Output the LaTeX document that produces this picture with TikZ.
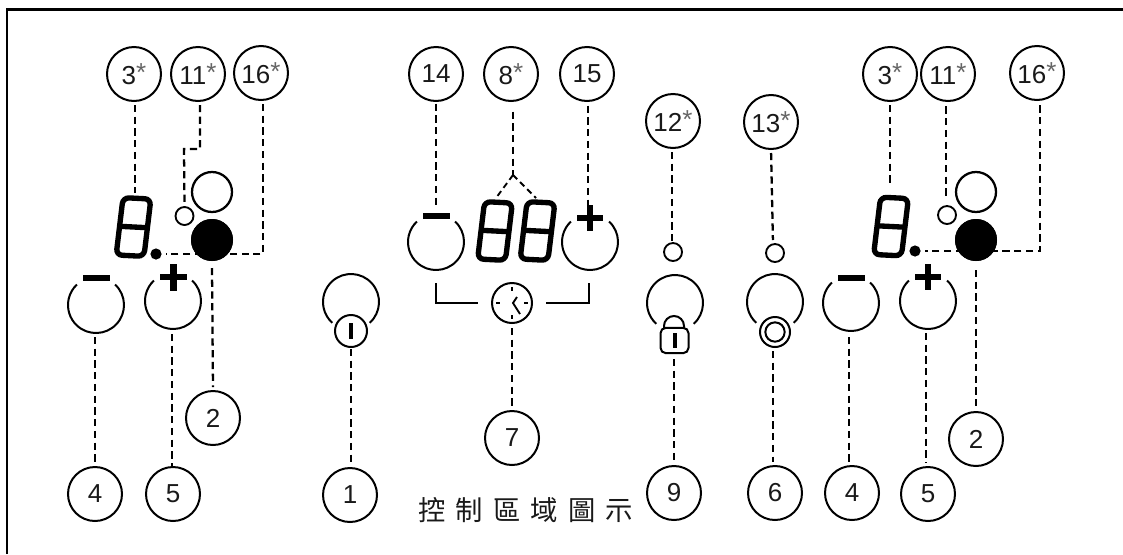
\documentclass[tikz,border=0pt]{standalone}
\usepackage{fontspec}
\setmainfont{Liberation Sans}
\newfontfamily\cjkfont{Noto Sans CJK TC}
\newcommand{\starred}[1]{#1\raisebox{2.4pt}{\textcolor{black!60}{*}}}
\newcommand{\cjkgap}{\hspace{7.6pt}}
\tikzset{
  num/.style={circle,draw=black,line width=1.5pt,minimum size=40.5pt,inner sep=0pt,outer sep=0pt,font=\fontsize{19.5}{21}\selectfont,text=black!90},
  leader/.style={line width=1.7pt,dash pattern=on 5.4pt off 3.4pt,draw=black},
  thinleader/.style={line width=1.4pt,dash pattern=on 4.5pt off 3pt,draw=black},
  btnbase/.style={circle,minimum size=42pt,inner sep=0pt,outer sep=0pt},
  btnline/.style={line width=1.5pt,draw=black},
  led/.style={circle,draw=black,line width=1.4pt,minimum size=13.5pt,inner sep=0pt,outer sep=0pt,fill=white},
  openlamp/.style={circle,draw=black,line width=1.7pt,minimum size=30pt,inner sep=0pt,outer sep=0pt},
  fulllamp/.style={circle,fill=black,minimum size=31.5pt,inner sep=0pt,outer sep=0pt},
  point/.style={circle,fill=black,minimum size=8.4pt,inner sep=0pt,outer sep=0pt},
  bar/.style={line width=4.8pt,draw=black},
  bracketline/.style={line width=1.6pt,draw=black},
  icon/.style={circle,draw=black,line width=1.5pt,inner sep=0pt,outer sep=0pt,fill=white},
  segdigit/.pic={
    \draw[line width=4pt,rounded corners=4.5pt,xslant=.12,yslant=-.05]
      (-10.5pt,-21.5pt) rectangle (10.5pt,21.5pt);
    \draw[line width=4pt,xslant=.12,yslant=-.05] (-10.5pt,0pt) -- (10.5pt,0pt);
  }
}
\begin{document}
\begin{tikzpicture}[x=.75pt,y=-.75pt]
\useasboundingbox (0,0) rectangle (1123,554);
\draw[line width=1.9pt] (7,554) -- (7,9.5) -- (1123,9.5);

% numbered circles
\node[num] (a3) at (134,74) {\starred{3}};
\node[num] (a11) at (198,74) {\starred{11}};
\node[num] (a16) at (261,73) {\starred{16}};
\node[num] (n14) at (436,74) {14};
\node[num] (n8) at (511,74) {\starred{8}};
\node[num] (n15) at (587,74) {15};
\node[num] (n12) at (673,121) {\starred{12}};
\node[num] (n13) at (771,122) {\starred{13}};
\node[num] (b3) at (890,74) {\starred{3}};
\node[num] (b11) at (948,74) {\starred{11}};
\node[num] (b16) at (1037,73) {\starred{16}};
\node[num] (a4) at (95,494) {4};
\node[num] (a5) at (173,494) {5};
\node[num] (a2) at (213,418) {2};
\node[num] (n1) at (350,495) {1};
\node[num] (n7) at (512,438) {7};
\node[num] (n9) at (674,493) {9};
\node[num] (n6) at (775,493) {6};
\node[num] (b4) at (852,493) {4};
\node[num] (b5) at (928,494) {5};
\node[num] (b2) at (976,439) {2};

% end points
\coordinate (ka3) at (135,193);
\coordinate (ka11a) at (200,149);
\coordinate (ka11b) at (184,149);
\coordinate (ka16) at (263,254);
\coordinate (ka2) at (212,268);
\coordinate (ka4) at (95,337);
\coordinate (ka5) at (172,334);
\coordinate (k14) at (436,205);
\coordinate (k15) at (588,206);
\coordinate (k8) at (513,175);
\coordinate (k8l) at (496,198);
\coordinate (k8r) at (536,198);
\coordinate (k7) at (512,328);
\coordinate (k1) at (351,349);
\coordinate (k9) at (674,359);
\coordinate (k6) at (773,351);
\coordinate (kb3) at (890,183);
\coordinate (kb11) at (946,200);
\coordinate (kb16) at (1040,251);
\coordinate (kb2) at (976,270);
\coordinate (kb4) at (849,337);
\coordinate (kb5) at (926,333);

% lamps
\node[openlamp] (ao) at (212,192) {};
\node[fulllamp] (af) at (212,240) {};
\node[led] (al) at (184.5,216) {};
\node[point] (ad) at (156,254) {};
\node[openlamp] (bo) at (976,192) {};
\node[fulllamp] (bf) at (976,240) {};
\node[led] (bl) at (947,215) {};
\node[point] (bd) at (915,251) {};
\node[led] (ll) at (673,252) {};
\node[led] (rl) at (775,253) {};

% leaders
\draw[leader,shorten <=3pt] ([xshift=.75pt]a3.south) -- (ka3);
\draw[leader,shorten <=3pt] ([xshift=1.5pt]a11.south) -- (ka11a) -- (ka11b) -- (al.north);
\draw[leader,shorten <=3pt,shorten >=3pt] ([xshift=1.5pt]a16.south) -- (ka16) -- (ad.east);
\draw[leader,shorten >=3pt] (ka2) -- (a2.north);
\draw[leader] (ka4) -- (a4.north);
\draw[leader] (ka5) -- ([xshift=-.75pt]a5.north);
\draw[leader,shorten <=2pt] (n14.south) -- (k14);
\draw[leader,shorten <=3.5pt] ([xshift=.75pt]n15.south) -- (k15);
\draw[leader,shorten <=8pt] ([xshift=1.5pt]n8.south) -- (k8);
\draw[thinleader] (k8) -- (k8l);
\draw[thinleader] (k8) -- (k8r);
\draw[leader,shorten <=3pt] ([xshift=-.75pt]n12.south) -- ([xshift=-.75pt]ll.north);
\draw[leader,shorten <=3pt,shorten >=3pt] (n13.south) -- ([xshift=-1.5pt]rl.north);
\draw[leader,shorten >=3pt] (k7) -- (n7.north);
\draw[leader,shorten >=4pt] (k1) -- ([xshift=.75pt]n1.north);
\draw[leader,shorten >=3pt] (k9) -- (n9.north);
\draw[leader,shorten >=3pt] (k6) -- ([xshift=-1.5pt]n6.north);
\draw[leader,shorten <=3pt] (b3.south) -- (kb3);
\draw[leader,shorten <=4pt] ([xshift=-1.5pt]b11.south) -- (kb11);
\draw[leader,shorten <=4pt,shorten >=3pt] ([xshift=2.25pt]b16.south) -- (kb16) -- (bd.east);
\draw[leader,shorten >=3pt] (kb2) -- (b2.north);
\draw[leader,shorten >=3pt] (kb4) -- ([xshift=-2.25pt]b4.north);
\draw[leader,shorten >=3pt] (kb5) -- ([xshift=-1.5pt]b5.north);
\node[fulllamp] at (af) {};
\node[fulllamp] at (bf) {};

% seven-segment digits
\pic at (133.5,227) {segdigit};
\pic at (891,226.5) {segdigit};
\pic at (495,231) {segdigit};
\pic at (537.5,231) {segdigit};

% buttons with an opening at the top
\node[btnbase] (mi1) at (96,305) {};
\node[btnbase] (pl1) at (173,301) {};
\node[btnbase] (mi2) at (436,242) {};
\node[btnbase] (pl2) at (590,242) {};
\node[btnbase] (mi3) at (851,303) {};
\node[btnbase] (pl3) at (928,301) {};
\foreach \b in {mi1,pl1,mi2,pl2,mi3,pl3}
  \draw[btnline] (\b.47) arc[start angle=47,end angle=-227,radius=21pt];
% buttons with an opening at the bottom
\node[btnbase] (pw) at (351,302) {};
\node[btnbase] (lk) at (675,303) {};
\node[btnbase] (rg) at (775,302) {};
\foreach \b in {pw,lk,rg}
  \draw[btnline] (\b.-48) arc[start angle=-48,end angle=228,radius=21pt];

% minus and plus signs
\draw[bar] (83,278) -- (110,278);
\draw[bar] (423,216) -- (450,216);
\draw[bar] (838,278) -- (865,278);
\draw[bar] (160,277) -- (187,277) (173.5,264) -- (173.5,291);
\draw[bar] (577,218) -- (603,218) (590,205) -- (590,231);
\draw[bar] (915,277) -- (941,277) (928,264) -- (928,290);

% power icon
\node[icon,minimum size=24pt] (pi) at (351,331) {};
\draw[line width=3.6pt] (351,323) -- (351,339);

% lock icon
\draw[line width=1.5pt] (664,330) -- (664,326) arc[start angle=180,end angle=0,radius=7.5pt] -- (684,330);
\node[draw=black,fill=white,line width=1.5pt,rounded corners=4pt,minimum width=21pt,minimum height=19pt,inner sep=0pt,outer sep=0pt] (li) at (674.5,340.5) {};
\draw[line width=3pt] (674.5,333) -- (674.5,348);

% ring icon
\node[icon,minimum size=22.5pt] (ri) at (775,332) {};
\node[icon,minimum size=14.5pt] (rj) at (775,332) {};

% clock
\node[icon,minimum size=30pt] (clk) at (512,303) {};
\draw[line width=1.2pt] (512,287) -- (512,291) (512,315) -- (512,319)
  (496,303) -- (500,303) (524,303) -- (528,303);
\draw[line width=1.4pt] (517,297) -- (513,303) -- (520,314);
\coordinate (br1) at (436,283);
\coordinate (br2) at (436,303);
\coordinate (br3) at (589,283);
\coordinate (br4) at (589,303);
\draw[bracketline,shorten >=10.5pt] (br1) -- (br2) -- (clk.west);
\draw[bracketline,shorten >=10.5pt] (br3) -- (br4) -- (clk.east);

% caption
\node[font=\cjkfont\fontsize{20.5}{23}\selectfont,inner sep=0pt,text=black!90] (title) at (525.5,510)
  {控\cjkgap 制\cjkgap 區\cjkgap 域\cjkgap 圖\cjkgap 示};
\end{tikzpicture}
\end{document}
